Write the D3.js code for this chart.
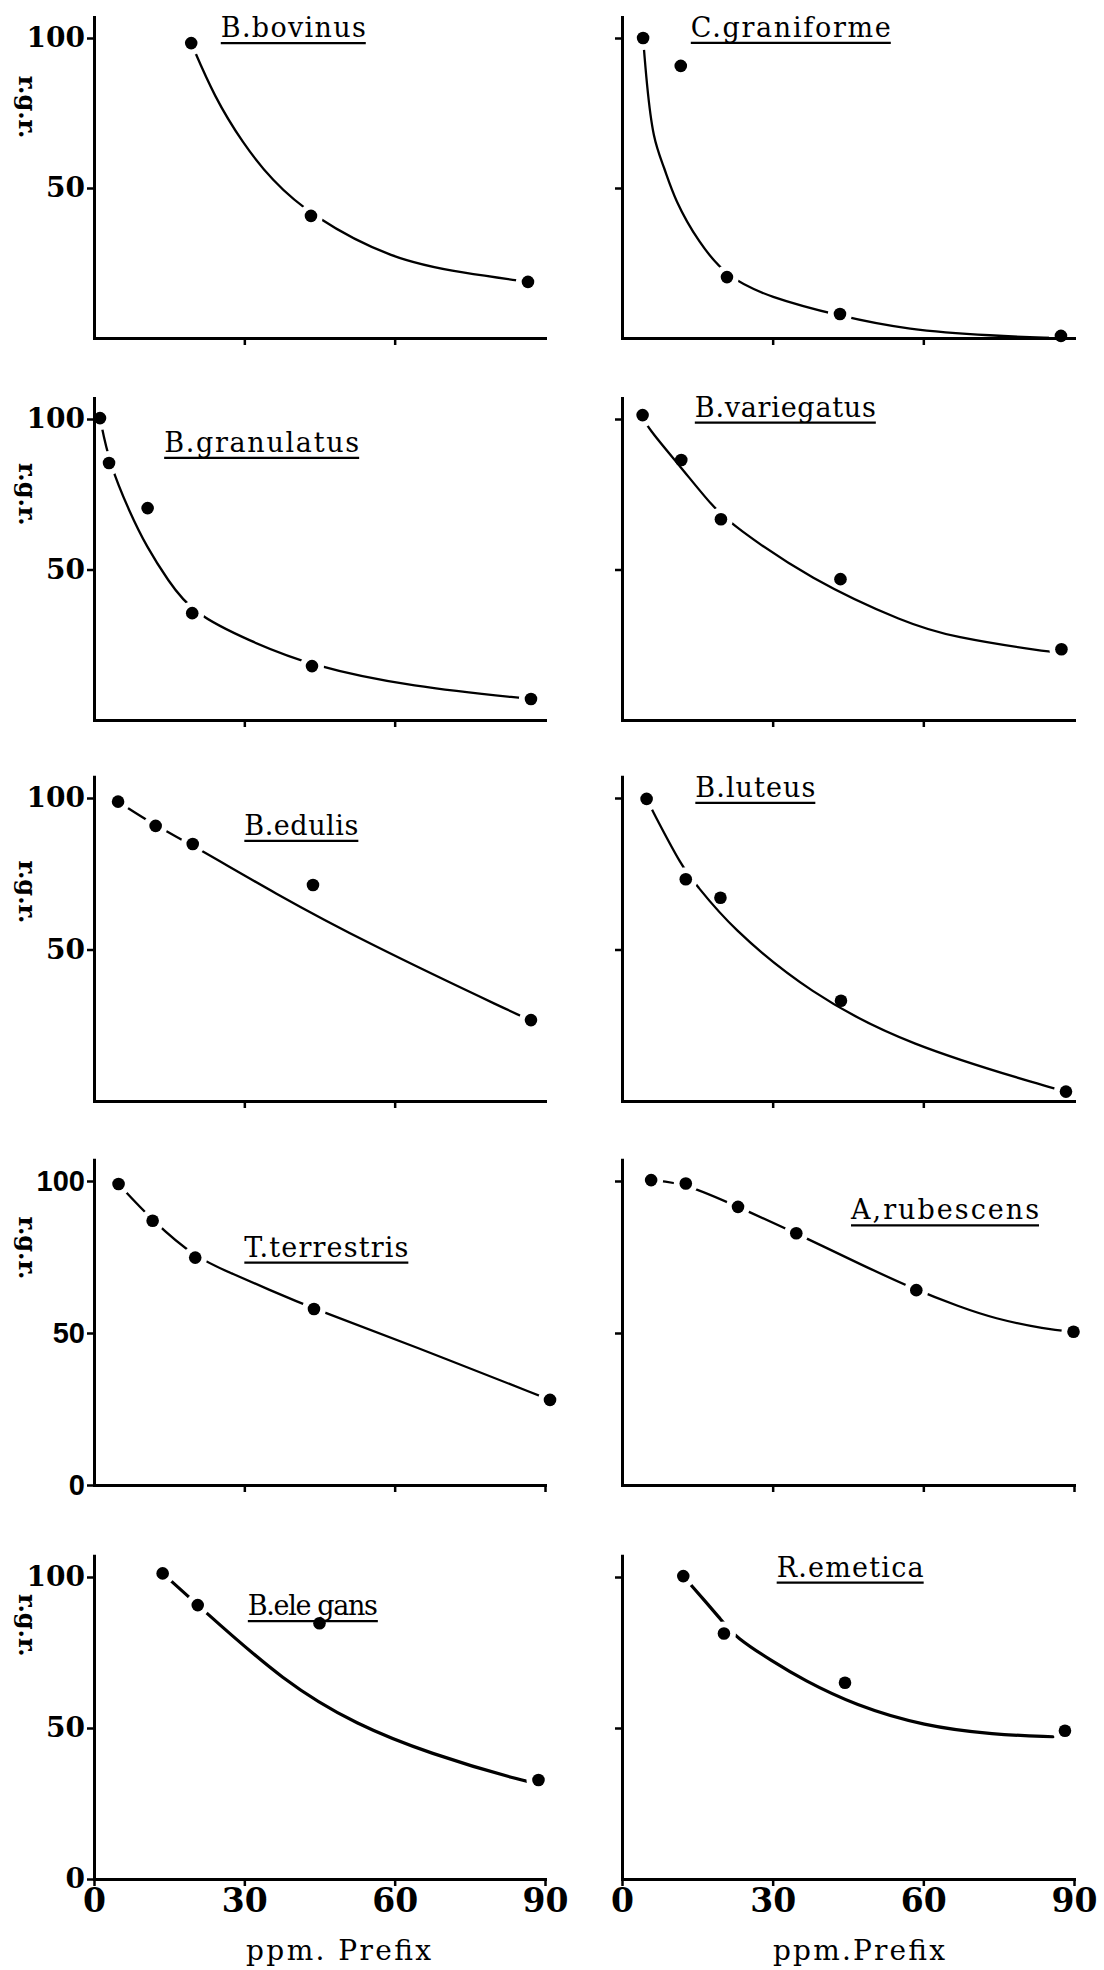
<!DOCTYPE html>
<html>
<head>
<meta charset="utf-8">
<script src="https://cdn.jsdelivr.net/npm/d3@7"></script>
<style>
  html, body { margin: 0; padding: 0; background: #fff; }
  svg { display: block; }
</style>
</head>
<body>
<svg id="chart" width="1104" height="1970"></svg>
<script>
// Relative growth rate (r.g.r.) of ten fungal species against Prefix concentration (ppm).

const species = ["B.bovinus", "C.graniforme", "B.granulatus", "B.variegatus", "B.edulis",
                 "B.luteus", "T.terrestris", "A,rubescens", "B.ele gans", "R.emetica"];

const xTickLabels = [0, 30, 60, 90];
const yTickLabels = [0, 50, 100];

// measured points [ppm, r.g.r.], fitted curve knots [ppm, r.g.r.],
// and the indices of points the curve is broken around
const bovinusPts = [[19.4, 98.3], [43.3, 40.7], [86.6, 18.7]];
const bovinusFit = [[19.4, 98.3], [24, 80.4], [29.7, 64.9], [35.4, 52.7], [43.3, 40.7], [59.6, 26], [73.9, 21.6], [86.6, 18.7]];
const bovinusGaps = [0, 1, 2];

const graniformePts = [[4.2, 100], [11.7, 90.7], [20.9, 20.3], [43.4, 8], [87.4, 0.7]];
const graniformeFit = [[4.2, 100], [4.9, 85], [6.2, 66], [8.4, 57], [10.5, 46], [15.3, 31.7], [20.9, 20.3], [29.1, 13.7], [43.4, 7.3], [56.7, 2.7], [74.1, 0.7], [86, 0]];
const graniformeGaps = [0, 2, 3, 4];

const granulatusPts = [[1.2, 100.3], [3, 85.4], [10.7, 70.4], [19.6, 35.5], [43.5, 17.9], [87.2, 7]];
const granulatusFit = [[1.2, 100.3], [3, 85.4], [7.2, 68.7], [10.5, 57.6], [14.7, 46.5], [19.6, 35.5], [31.1, 26.2], [43.5, 17.9], [63.3, 11], [87.2, 7]];
const granulatusGaps = [0, 1, 3, 4, 5];

const variegatusPts = [[4.1, 101.3], [11.8, 86.4], [19.7, 66.7], [43.5, 46.8], [87.5, 23.5]];
const variegatusFit = [[4.1, 101.3], [4.9, 97.4], [11.7, 84.1], [18.1, 70.7], [22.2, 64.5], [37.4, 46.8], [56.8, 32], [65.7, 27.6], [84.4, 22.7], [87.5, 22.4]];
const variegatusGaps = [0, 2, 4];

const edulisPts = [[4.8, 98.8], [12.3, 90.8], [19.7, 84.8], [43.7, 71.3], [87.2, 26.7]];
const edulisFit = [[4.8, 98.8], [12.3, 90.8], [19.7, 84.4], [36.1, 68.5], [53.9, 52.6], [84.6, 28.4], [87.2, 26.7]];
const edulisGaps = [0, 1, 2, 4];

const luteusPts = [[4.9, 99.7], [12.7, 73.2], [19.6, 67.1], [43.6, 33.1], [88.4, 3.1]];
const luteusFit = [[4.9, 99.7], [6, 96], [12.1, 76.8], [14.6, 71.8], [21.5, 57.5], [37.4, 35.5], [56.8, 18.5], [85.8, 4.2], [88.4, 3.1]];
const luteusGaps = [0, 1, 4];

const terrestrisPts = [[4.9, 99], [11.7, 86.9], [20.2, 74.8], [43.9, 57.9], [91, 28]];
const terrestrisFit = [[4.9, 99], [11.7, 86.9], [20.2, 74.8], [27.5, 69.6], [34.7, 64.4], [43.9, 57.9], [63.2, 46.1], [91, 28]];
const terrestrisGaps = [0, 1, 2, 3, 4];

const rubescensPts = [[5.8, 100.3], [12.7, 99.2], [23.1, 91.5], [34.7, 82.8], [58.6, 64.1], [89.9, 50.4]];
const rubescensFit = [[5.8, 100.3], [12.7, 99.2], [23.1, 91.5], [34.7, 82.8], [47.7, 72.4], [58.6, 64.1], [67.1, 58.7], [74, 54.8], [84.4, 51.2], [89.9, 50.4]];
const rubescensGaps = [0, 1, 2, 3, 4, 5];

const elegansPts = [[13.7, 101.2], [20.7, 90.7], [45, 84.7], [88.7, 32.8]];
const elegansFit = [[13.7, 101.2], [20.7, 90.7], [38.2, 64.8], [52.5, 51], [66.8, 41.6], [86, 32.2], [88.7, 31.8]];
const elegansGaps = [0, 1, 3];

const emeticaPts = [[12.2, 100.3], [20.3, 81.3], [44.4, 65], [88.2, 49.1]];
const emeticaFit = [[12.2, 100.3], [20.1, 85.2], [22.5, 80.2], [30, 72], [36, 66], [46.4, 57.5], [60.2, 50.6], [74, 47.8], [85.8, 47.1]];
const emeticaGaps = [0, 1, 3];

// ---- layout ----
const colRange = [[94, 545], [622, 1074]];        // pixel of ppm 0 and ppm 90 per column
const rowBase = [338, 720, 1101, 1485, 1879];      // pixel of r.g.r. 0 per row
const rowSpan = [300, 301, 303, 304, 302];         // pixel height of 100 r.g.r. units per row

const serifBold = "'DejaVu Serif', 'Liberation Serif', serif";
const titleFont = "'DejaVu Serif', 'Liberation Serif', serif";

const panels = [
  { pts: bovinusPts,    fit: bovinusFit,    gaps: bovinusGaps,    col: 0, row: 0, title: [25.3, 100.3], titleW: 145, ylab: 77 },
  { pts: graniformePts, fit: graniformeFit, gaps: graniformeGaps, col: 1, row: 0, title: [13.7, 100.4], titleW: 200 },
  { pts: granulatusPts, fit: granulatusFit, gaps: granulatusGaps, col: 0, row: 1, title: [14, 89.1],     titleW: 195, ylab: 75 },
  { pts: variegatusPts, fit: variegatusFit, gaps: variegatusGaps, col: 1, row: 1, title: [14.5, 100.8],  titleW: 181 },
  { pts: edulisPts,     fit: edulisFit,     gaps: edulisGaps,     col: 0, row: 2, title: [30, 87.8],     titleW: 114, ylab: 69 },
  { pts: luteusPts,     fit: luteusFit,     gaps: luteusGaps,     col: 1, row: 2, title: [14.6, 100.4],  titleW: 120 },
  { pts: terrestrisPts, fit: terrestrisFit, gaps: terrestrisGaps, col: 0, row: 3, title: [30, 75.1],     titleW: 164, ylab: 78, sans: true },
  { pts: rubescensPts,  fit: rubescensFit,  gaps: rubescensGaps,  col: 1, row: 3, title: [45.6, 87.4],   titleW: 188 },
  { pts: elegansPts,    fit: elegansFit,    gaps: elegansGaps,    col: 0, row: 4, title: [30.7, 87.4],   titleW: 130, ylab: 84 },
  { pts: emeticaPts,    fit: emeticaFit,    gaps: emeticaGaps,    col: 1, row: 4, title: [30.8, 100.1],  titleW: 147 }
];
panels.forEach((p, i) => { p.name = species[i]; });

const svg = d3.select("#chart");
svg.append("rect").attr("width", 1104).attr("height", 1970).attr("fill", "#fff");

panels.forEach(p => {
  const [x0, x1] = colRange[p.col];
  const base = rowBase[p.row], span = rowSpan[p.row];
  const x = d3.scaleLinear().domain([0, 90]).range([x0, x1]);
  const y = d3.scaleLinear().domain([0, 100]).range([base, base - span]);
  const g = svg.append("g").attr("class", "panel");
  const lw = p.row === 4 ? 3.2 : 2.3;

  // smooth hand-fitted response curve
  const line = d3.line().x(d => x(d[0])).y(d => y(d[1])).curve(d3.curveBasis);
  g.append("path")
    .datum(p.fit)
    .attr("d", line)
    .attr("fill", "none")
    .attr("stroke", "#000")
    .attr("stroke-width", lw)
    .attr("stroke-linecap", "round");

  // the curve is interrupted around the points it passes through
  g.selectAll("circle.gap")
    .data(p.gaps.map(i => p.pts[i]))
    .join("circle")
    .attr("class", "gap")
    .attr("cx", d => x(d[0]))
    .attr("cy", d => y(d[1]))
    .attr("r", 12)
    .attr("fill", "#fff");

  const left = p.col === 0;
  const bottom = p.row === 4;
  const labelFont = p.sans ? "'Liberation Sans', Arial, sans-serif" : serifBold;
  const labelSize = p.sans ? 29 : 28;

  // y axis (drawn a little beyond 100)
  const yAxisScale = d3.scaleLinear().domain([0, 107]).range([base, y(107)]);
  const yVals = (left && p.row >= 3) ? yTickLabels : yTickLabels.filter(v => v > 0);
  const yAxis = d3.axisLeft(yAxisScale)
    .tickValues(yVals)
    .tickSize(7)
    .tickSizeOuter(0)
    .tickPadding(2)
    .tickFormat(left ? d3.format("d") : () => "");
  const gy = g.append("g").attr("transform", `translate(${x0},0)`).call(yAxis);

  // x axis
  const xVals = bottom ? xTickLabels : (p.row === 3 ? xTickLabels.slice(1) : xTickLabels.slice(1, 3));
  const xAxis = d3.axisBottom(x)
    .tickValues(xVals)
    .tickSize(7)
    .tickSizeOuter(0)
    .tickPadding(3)
    .tickFormat(bottom ? d3.format("d") : () => "");
  const gx = g.append("g").attr("transform", `translate(0,${base})`).call(xAxis);

  [gy, gx].forEach(ax => {
    ax.select(".domain").attr("stroke", "#000").attr("stroke-width", 3).attr("stroke-linecap", "square");
    ax.selectAll(".tick line").attr("stroke", "#000").attr("stroke-width", 2.5);
  });
  gy.selectAll(".tick text")
    .attr("font-family", labelFont)
    .attr("font-size", labelSize)
    .attr("font-weight", "bold")
    .attr("fill", "#000");
  gx.selectAll(".tick text")
    .attr("font-family", serifBold)
    .attr("font-size", 33)
    .attr("font-weight", "bold")
    .attr("fill", "#000");

  // y axis title
  if (left) {
    g.append("text")
      .attr("transform", `translate(19,${y(p.ylab)}) rotate(90)`)
      .attr("text-anchor", "middle")
      .attr("font-family", serifBold)
      .attr("font-size", 24)
      .attr("font-weight", "bold")
      .attr("fill", "#000")
      .text("r.g.r.");
  }

  // underlined species name
  const tx = x(p.title[0]), ty = y(p.title[1]);
  g.append("text")
    .attr("x", tx)
    .attr("y", ty)
    .attr("textLength", p.titleW)
    .attr("lengthAdjust", "spacing")
    .attr("font-family", titleFont)
    .attr("font-size", 27)
    .attr("fill", "#000")
    .text(p.name);
  g.append("line")
    .attr("x1", tx).attr("x2", tx + p.titleW)
    .attr("y1", ty + 6).attr("y2", ty + 6)
    .attr("stroke", "#000")
    .attr("stroke-width", 2.2);

  // measured points
  g.selectAll("circle.pt")
    .data(p.pts)
    .join("circle")
    .attr("class", "pt")
    .attr("cx", d => x(d[0]))
    .attr("cy", d => y(d[1]))
    .attr("r", 6.3)
    .attr("fill", "#000");

  // x axis title under the bottom row
  if (bottom) {
    g.append("text")
      .attr("x", left ? 246 : 773)
      .attr("y", 1960)
      .attr("textLength", left ? 185 : 172)
      .attr("lengthAdjust", "spacing")
      .attr("font-family", "'DejaVu Serif', serif")
      .attr("font-size", 28)
      .attr("fill", "#000")
      .text(left ? "ppm. Prefix" : "ppm.Prefix");
  }
});
</script>
</body>
</html>
